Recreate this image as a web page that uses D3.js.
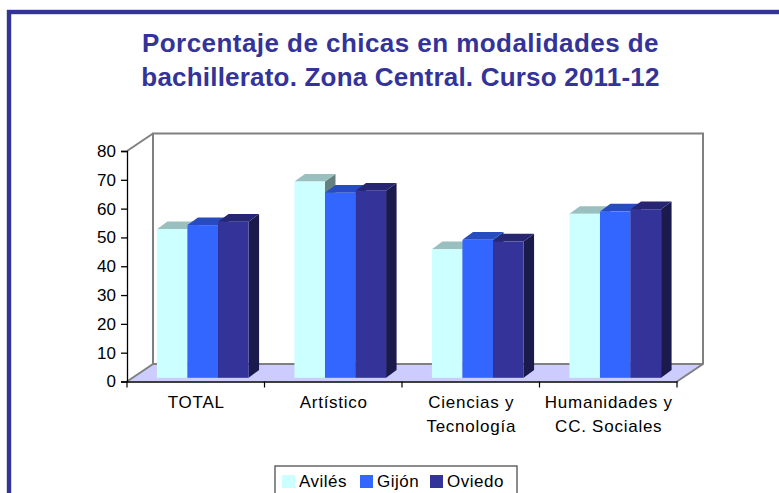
<!DOCTYPE html>
<html lang="en">
<head>
    <meta charset="UTF-8">
    <title>Porcentaje de chicas</title>
    <script src="https://cdn.jsdelivr.net/npm/d3@7"></script>
    <style>
        html, body { margin: 0; padding: 0; background: #fff; overflow: hidden; }
        text { font-family: "Liberation Sans", Arial, sans-serif; fill: #000; }
    </style>
</head>
<body>
    <div id="chart"></div>
    <script>
        const categories = [["TOTAL"], ["Artístico"], ["Ciencias y", "Tecnología"], ["Humanidades y", "CC. Sociales"]];
        const seriesNames = ["Avilés", "Gijón", "Oviedo"];
        const aviles = [51.6, 68.1, 44.6, 56.9];
        const gijon = [53.0, 64.2, 47.9, 57.7];
        const oviedo = [54.2, 64.9, 47.3, 58.5];
        const yTicks = [0, 10, 20, 30, 40, 50, 60, 70, 80];
        const titleLines = ["Porcentaje de chicas en modalidades de", "bachillerato. Zona Central. Curso 2011-12"];

        const seriesValues = [aviles, gijon, oviedo];
        const front = ["#CCFFFF", "#3366FF", "#333399"];
        const top_ = ["#99BFBF", "#264CBF", "#262673"];
        const side = ["#668080", "#1A3380", "#1A1A4D"];

        const width = 779, height = 493;
        const plot = {left: 127, right: 677, top: 151, bottom: 381.5};
        const wallDx = 26, wallDy = -17.5;   // depth of the chart box
        const barDx = 10.5, barDy = -7.7;    // depth of one bar
        const barShiftY = -3.7;              // bars stand a little inside the floor

        const svg = d3.select('#chart').append('svg')
            .attr('width', width).attr('height', height)
            .style('display', 'block');

        // outer frame
        svg.append('rect')
            .attr('x', 9).attr('y', 12)
            .attr('width', 800).attr('height', 520)
            .attr('fill', '#fff').attr('stroke', '#333399').attr('stroke-width', 4.4);

        // title
        svg.append('g').selectAll('text')
            .data(titleLines).enter().append('text')
            .attr('x', 400.5)
            .attr('y', (d, i) => 52 + i * 34)
            .attr('text-anchor', 'middle')
            .attr('font-size', 26)
            .attr('font-weight', 'bold')
            .attr('letter-spacing', (d, i) => i ? 0.2 : 0.45)
            .style('fill', '#333399')
            .text(d => d);

        const xScale = d3.scaleBand()
            .domain(d3.range(categories.length))
            .range([plot.left, plot.right]);
        const yScale = d3.scaleLinear()
            .domain([0, 80])
            .range([plot.bottom, plot.top]);
        const innerScale = d3.scaleBand()
            .domain(d3.range(seriesNames.length))
            .range([0, xScale.bandwidth()])
            .paddingOuter(0.75).paddingInner(0);

        // walls and floor
        const x0 = plot.left, x1 = plot.right, y0 = plot.bottom, y1 = plot.top;
        svg.append('polygon')
            .attr('points', [[x0, y0], [x1, y0], [x1 + wallDx, y0 + wallDy], [x0 + wallDx, y0 + wallDy]].join(' '))
            .attr('fill', '#CCCCFF');
        svg.append('path')
            .attr('d', `M${x0},${y0}L${x0 + wallDx},${y0 + wallDy}V${y1 + wallDy}H${x1 + wallDx}V${y0 + wallDy}L${x1},${y0}`)
            .attr('fill', 'none').attr('stroke', '#808080').attr('stroke-width', 2);
        svg.append('path')
            .attr('d', `M${x0},${y1}L${x0 + wallDx},${y1 + wallDy}`)
            .attr('fill', 'none').attr('stroke', '#808080').attr('stroke-width', 2);
        svg.append('path')
            .attr('d', `M${x0 + wallDx},${y0 + wallDy}H${x1 + wallDx}`)
            .attr('fill', 'none').attr('stroke', '#808080').attr('stroke-width', 2);

        // bars, drawn left to right so each covers the side of the previous one
        const base = yScale(0) + barShiftY;
        categories.forEach((cat, c) => {
            seriesValues.forEach((vals, s) => {
                const bx = xScale(c) + innerScale(s) + 7;
                const bw = innerScale.bandwidth();
                const by = yScale(vals[c]) + barShiftY;
                const g = svg.append('g');
                g.append('polygon')
                    .attr('points', [[bx + bw, by], [bx + bw + barDx, by + barDy], [bx + bw + barDx, base + barDy], [bx + bw, base]].join(' '))
                    .attr('fill', side[s]);
                g.append('polygon')
                    .attr('points', [[bx, by], [bx + barDx, by + barDy], [bx + bw + barDx, by + barDy], [bx + bw, by]].join(' '))
                    .attr('fill', top_[s]);
                g.append('rect')
                    .attr('x', bx).attr('y', by)
                    .attr('width', bw).attr('height', base - by)
                    .attr('fill', front[s]);
            });
        });

        // axes
        const yAxis = svg.append('g')
            .attr('transform', `translate(${plot.left},0)`)
            .call(d3.axisLeft(yScale).tickValues(yTicks).tickSize(6).tickPadding(5).tickFormat(d3.format('d')));
        yAxis.selectAll('text').attr('font-size', 17).style('font-family', '"Liberation Sans", Arial, sans-serif');
        yAxis.selectAll('line,path').attr('stroke', '#000').attr('stroke-width', 1.3);

        const xAxis = svg.append('g')
            .attr('transform', `translate(0,${plot.bottom})`)
            .call(d3.axisBottom(xScale).tickValues([]).tickSize(0).tickSizeOuter(0));
        xAxis.selectAll('path').attr('stroke', '#000').attr('stroke-width', 1.3);
        xAxis.selectAll('line.cat')
            .data(d3.range(categories.length + 1)).enter().append('line')
            .attr('class', 'cat')
            .attr('x1', d => plot.left + d * xScale.bandwidth())
            .attr('x2', d => plot.left + d * xScale.bandwidth())
            .attr('y1', 0).attr('y2', 6)
            .attr('stroke', '#000').attr('stroke-width', 1.2);

        const catLabels = svg.append('g').selectAll('text')
            .data(categories).enter().append('text')
            .attr('text-anchor', 'middle')
            .attr('font-size', 17)
            .attr('letter-spacing', 0.75);
        catLabels.selectAll('tspan')
            .data((d, i) => d.map(line => ({line, i})))
            .enter().append('tspan')
            .attr('x', d => xScale(d.i) + xScale.bandwidth() / 2 + 0.5)
            .attr('y', (d, j) => 407.5 + j * 24.3)
            .text(d => d.line);

        // legend
        const legend = svg.append('g');
        legend.append('rect')
            .attr('x', 275).attr('y', 466)
            .attr('width', 242).attr('height', 40)
            .attr('fill', '#fff').attr('stroke', '#404040').attr('stroke-width', 1.2);
        const legendX = d3.scaleOrdinal().domain(seriesNames).range([282, 360, 430]);
        seriesNames.forEach((name, i) => {
            legend.append('rect')
                .attr('x', legendX(name)).attr('y', 475)
                .attr('width', 13).attr('height', 13)
                .attr('fill', front[i]);
            legend.append('text')
                .attr('x', legendX(name) + 17).attr('y', 486.5)
                .attr('font-size', 17)
                .attr('letter-spacing', 0.5)
                .text(name);
        });
    </script>
</body>
</html>
